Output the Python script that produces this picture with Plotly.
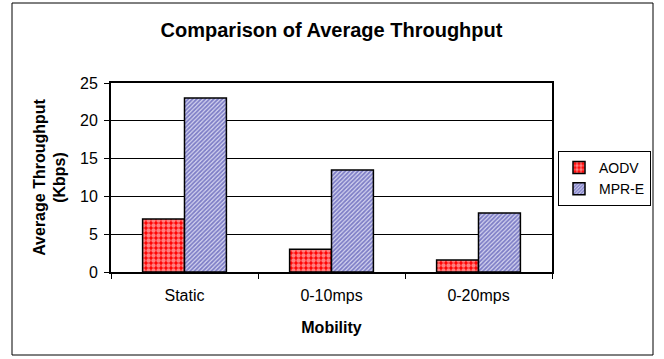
import plotly.graph_objects as go

categories = ["Static", "0-10mps", "0-20mps"]
aodv = [7.0, 3.0, 1.6]
mpr_e = [23.0, 13.5, 7.8]
series_names = ["AODV", "MPR-E"]
y_ticks = [0, 5, 10, 15, 20, 25]

FONT = "Liberation Sans, Arial, sans-serif"

fig = go.Figure()
fig.add_trace(go.Bar(
    name=series_names[0], x=categories, y=aodv,
    marker=dict(color="#ff0000", line=dict(color="black", width=1.5),
                pattern=dict(shape=".", fgcolor="white", bgcolor="#ff0000",
                             size=5, solidity=0.6)),
))
fig.add_trace(go.Bar(
    name=series_names[1], x=categories, y=mpr_e,
    marker=dict(color="white", line=dict(color="black", width=1.5),
                pattern=dict(shape="/", fgcolor="#26269c", bgcolor="#d6d6f0",
                             size=3, solidity=0.6)),
))

# plot area: x 111..552, y 83..272 in pixels
L, R, T, B = 111, 552, 83, 272
W, H = 664, 359
pw, ph = R - L, B - T

def px(x):
    return (x - L) / pw

def py(y):
    return (B - y) / ph

fig.update_layout(
    width=W, height=H,
    margin=dict(l=L, r=W - R, t=T, b=H - B, autoexpand=False),
    paper_bgcolor="white", plot_bgcolor="white",
    font=dict(family=FONT, size=16, color="black"),
    barmode="group", bargap=0.43, bargroupgap=0,
    title=dict(text="<b>Comparison of Average Throughput</b>",
               x=0.5, xref="paper", xanchor="center",
               y=1 - 30 / H, yanchor="middle",
               font=dict(size=20, family=FONT, color="black")),
    legend=dict(x=px(558), y=py(151), xanchor="left", yanchor="top",
                bordercolor="black", borderwidth=1, bgcolor="white",
                font=dict(size=14, family=FONT), itemwidth=30,
                tracegroupgap=0),
    showlegend=True,
    xaxis=dict(
        title=dict(text="<b>Mobility</b>", standoff=19,
                   font=dict(size=16, family=FONT)),
        automargin=False,
        tickson="boundaries", ticks="outside", ticklen=5, tickcolor="black",
        ticklabelstandoff=8,
        showline=True, linecolor="black", linewidth=2, mirror=True,
        showgrid=False, tickfont=dict(size=16, family=FONT),
    ),
    yaxis=dict(
        title=dict(text="<b>Average Throughput<br>(Kbps)</b>", standoff=10,
                   font=dict(size=16, family=FONT)),
        automargin=False,
        range=[0, 25], tickvals=y_ticks, ticks="outside", ticklen=5,
        ticklabelstandoff=3,
        tickcolor="black", showline=True, linecolor="black", linewidth=2,
        mirror=True, showgrid=True, gridcolor="black", gridwidth=1,
        zeroline=False, tickfont=dict(size=16, family=FONT),
    ),
    shapes=[dict(type="rect", xref="paper", yref="paper",
                 x0=px(12), x1=px(653), y0=py(355), y1=py(3),
                 line=dict(color="black", width=1), fillcolor="rgba(0,0,0,0)",
                 layer="below")],
)

fig.write_html("out.html", config={"displayModeBar": False},
               post_script="document.body.style.margin='0px';document.body.style.padding='0px';")
